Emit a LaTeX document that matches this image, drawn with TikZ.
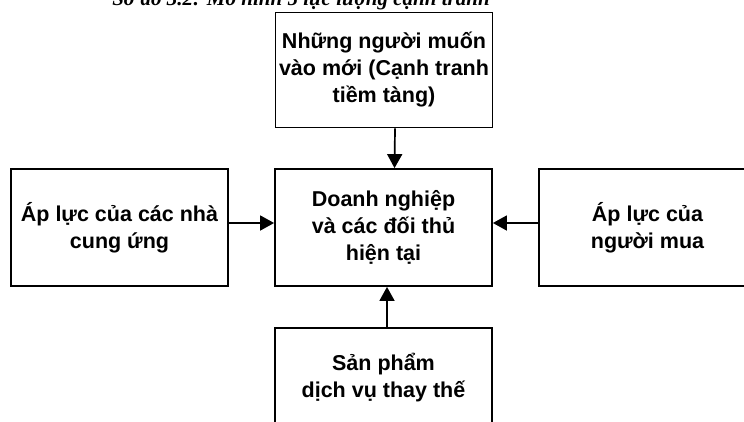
\documentclass[tikz,border=0pt]{standalone}
\usepackage{fontspec}
\setmainfont{Liberation Serif}
\setsansfont{Liberation Sans}
\usetikzlibrary{arrows.meta}

\begin{document}
\begin{tikzpicture}[
  x=1pt, y=-1pt,
  font=\sffamily\bfseries\fontsize{21.5}{27}\selectfont,
  forcebox/.style={draw, line width=1.8pt, align=center, inner sep=0pt,
                   minimum width=217pt, minimum height=117pt},
  arrow/.style={-{Triangle[length=14pt,width=15pt]}, line width=1.7pt}
]
\useasboundingbox (0,0) rectangle (744,421);
\node[font=\rmfamily\bfseries\itshape\fontsize{21}{25}\selectfont, anchor=base] (title) at (301,5) {Sơ đồ 3.2: Mô hình 5 lực lượng cạnh tranh};
\node[forcebox, minimum height=115pt] (entrants) at (384,70)    {Những người muốn\\vào mới (Cạnh tranh\\tiềm tàng)};
\node[forcebox] (firms)     at (383.5,227.5) {Doanh nghiệp\\và các đối thủ\\hiện tại};
\node[forcebox] (suppliers) at (119.5,227.5) {Áp lực của các nhà\\cung ứng};
\node[forcebox] (buyers)    at (647.5,227.5) {Áp lực của\\người mua};
\node[forcebox, minimum height=100pt] (substitutes) at (383.5,378) {Sản phẩm\\dịch vụ thay thế};
\draw[arrow] ([xshift=11pt]entrants.south) -- ([xshift=11pt]firms.north);
\draw[arrow] ([xshift=3.5pt]substitutes.north) -- ([xshift=3.5pt]firms.south);
\draw[arrow] ([yshift=4.5pt]suppliers.east) -- ([yshift=4.5pt]firms.west);
\draw[arrow] ([yshift=4.5pt]buyers.west) -- ([yshift=4.5pt]firms.east);
\end{tikzpicture}
\end{document}
